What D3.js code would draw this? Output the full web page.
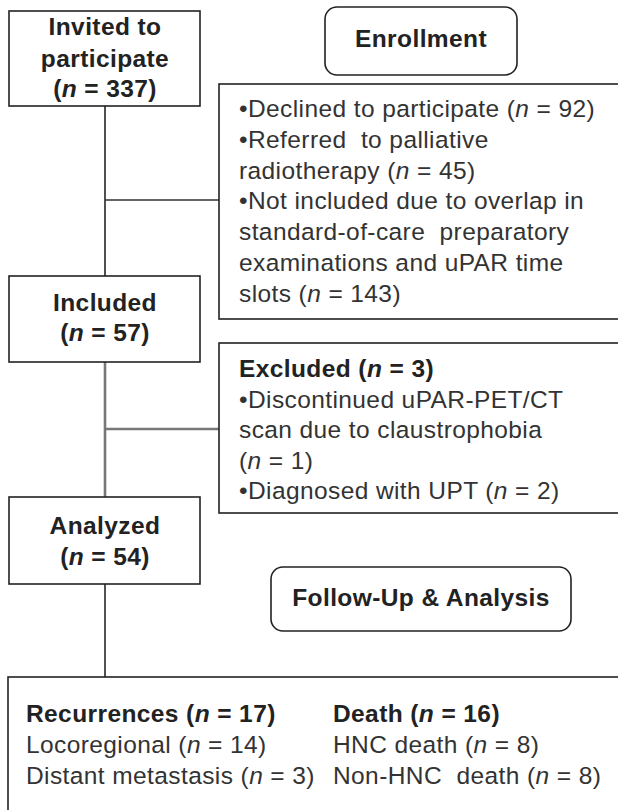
<!DOCTYPE html>
<meta charset="utf-8">
<style>
    body { margin: 0; background: #fff; }
    text { font-family: "Liberation Sans", Arial, sans-serif; letter-spacing: 0.4px; }
</style>
<script src="https://d3js.org/d3.v7.min.js"></script>

<div id="flow"></div>

<script>
    // flow numbers
    var stages = ["Invited to participate", "Included", "Analyzed"];
    var stageCounts = [337, 57, 54];

    // reasons already split into the lines they wrap onto, count goes on last line
    var notEnrolled = [
        ["Declined to participate"],
        ["Referred  to palliative", "radiotherapy"],
        ["Not included due to overlap in", "standard-of-care  preparatory", "examinations and uPAR time", "slots"]
    ];
    var notEnrolledCounts = [92, 45, 143];

    var excludedCount = 3;
    var excluded = [
        ["Discontinued uPAR-PET/CT", "scan due to claustrophobia", ""],
        ["Diagnosed with UPT"]
    ];
    var excludedCounts = [1, 2];

    var recurrenceCount = 17;
    var recurrences = ["Locoregional", "Distant metastasis"];
    var recurrenceCounts = [14, 3];

    var deathCount = 16;
    var deaths = ["HNC death", "Non-HNC  death"];
    var deathCounts = [8, 8];

    var headers = ["Enrollment", "Follow-Up & Analysis"];

    var width = 618, height = 810;
    var fs = 24.5, lh = 30.8;

    var svg = d3.select("#flow")
      .append("svg")
        .attr("width", width)
        .attr("height", height);

    function nc(c) { return "(n = " + c + ")"; }

    // text line with italic "n"
    function line(x, y, str, bold, anchor) {
        var t = svg.append("text")
            .attr("x", x).attr("y", y)
            .style("font-size", fs + "px")
            .style("font-weight", bold ? "bold" : "normal")
            .style("fill", bold ? "#222" : "#333")
            .attr("text-anchor", anchor || "start")
            .attr("xml:space", "preserve");
        str.split(/(\bn\b)/).forEach(function(s) {
            if (s == "") return;
            var sp = t.append("tspan").text(s);
            if (s == "n") sp.style("font-style", "italic");
        });
        return t;
    }

    // connectors
    var conn = svg.append("g").attr("fill", "none").attr("stroke-linecap", "butt");
    conn.append("path").attr("d", "M105,106 V276 M105,200 H219").attr("stroke", "#333").attr("stroke-width", 1.7);
    conn.append("path").attr("d", "M105,362 V497 M105,429 H219").attr("stroke", "#777").attr("stroke-width", 2.6);
    conn.append("path").attr("d", "M105,584 V677").attr("stroke", "#333").attr("stroke-width", 1.7);

    // boxes
    var boxes = [
        {x: 9, y: 11, w: 191, h: 95, r: 0},
        {x: 9, y: 276, w: 191, h: 86, r: 0},
        {x: 9, y: 497, w: 191, h: 87, r: 0},
        {x: 219, y: 84, w: 420, h: 235, r: 0},
        {x: 219, y: 343, w: 420, h: 170, r: 0},
        {x: 8, y: 677, w: 640, h: 160, r: 0},
        {x: 325, y: 7, w: 192, h: 68, r: 12},
        {x: 271, y: 567, w: 300, h: 64, r: 12}
    ];
    svg.append("g").selectAll("rect")
        .data(boxes)
        .join("rect")
        .attr("x", function(d) { return d.x; })
        .attr("y", function(d) { return d.y; })
        .attr("width", function(d) { return d.w; })
        .attr("height", function(d) { return d.h; })
        .attr("rx", function(d) { return d.r; })
        .attr("fill", "#fff")
        .attr("stroke", "#222")
        .attr("stroke-width", 1.6);

    // stage boxes
    line(105, 35, "Invited to", true, "middle");
    line(105, 66.5, "participate", true, "middle");
    line(105, 97, nc(stageCounts[0]), true, "middle");
    line(105, 311, stages[1], true, "middle");
    line(105, 341, nc(stageCounts[1]), true, "middle");
    line(105, 534, stages[2], true, "middle");
    line(105, 565, nc(stageCounts[2]), true, "middle");

    // headers
    line(421, 47, headers[0], true, "middle");
    line(421, 606, headers[1], true, "middle");

    // not enrolled reasons
    var y = 117;
    notEnrolled.forEach(function(r, i) {
        r.forEach(function(l, j) {
            var s = (j == 0 ? "\u2022" : "") + l;
            if (j == r.length - 1) s += (l == "" ? "" : " ") + nc(notEnrolledCounts[i]);
            line(239, y, s, false);
            y += lh;
        });
    });

    // excluded
    line(239, 377, "Excluded " + nc(excludedCount), true);
    y = 377 + 30.5;
    excluded.forEach(function(r, i) {
        r.forEach(function(l, j) {
            var s = (j == 0 ? "\u2022" : "") + l;
            if (j == r.length - 1) s += (l == "" ? "" : " ") + nc(excludedCounts[i]);
            line(239, y, s, false);
            y += 30.5;
        });
    });

    // follow up
    line(26, 722, "Recurrences " + nc(recurrenceCount), true);
    recurrences.forEach(function(l, i) {
        line(26, 753 + i * 31, l + " " + nc(recurrenceCounts[i]), false);
    });
    line(333, 722, "Death " + nc(deathCount), true);
    deaths.forEach(function(l, i) {
        line(333, 753 + i * 31, l + " " + nc(deathCounts[i]), false);
    });
</script>
